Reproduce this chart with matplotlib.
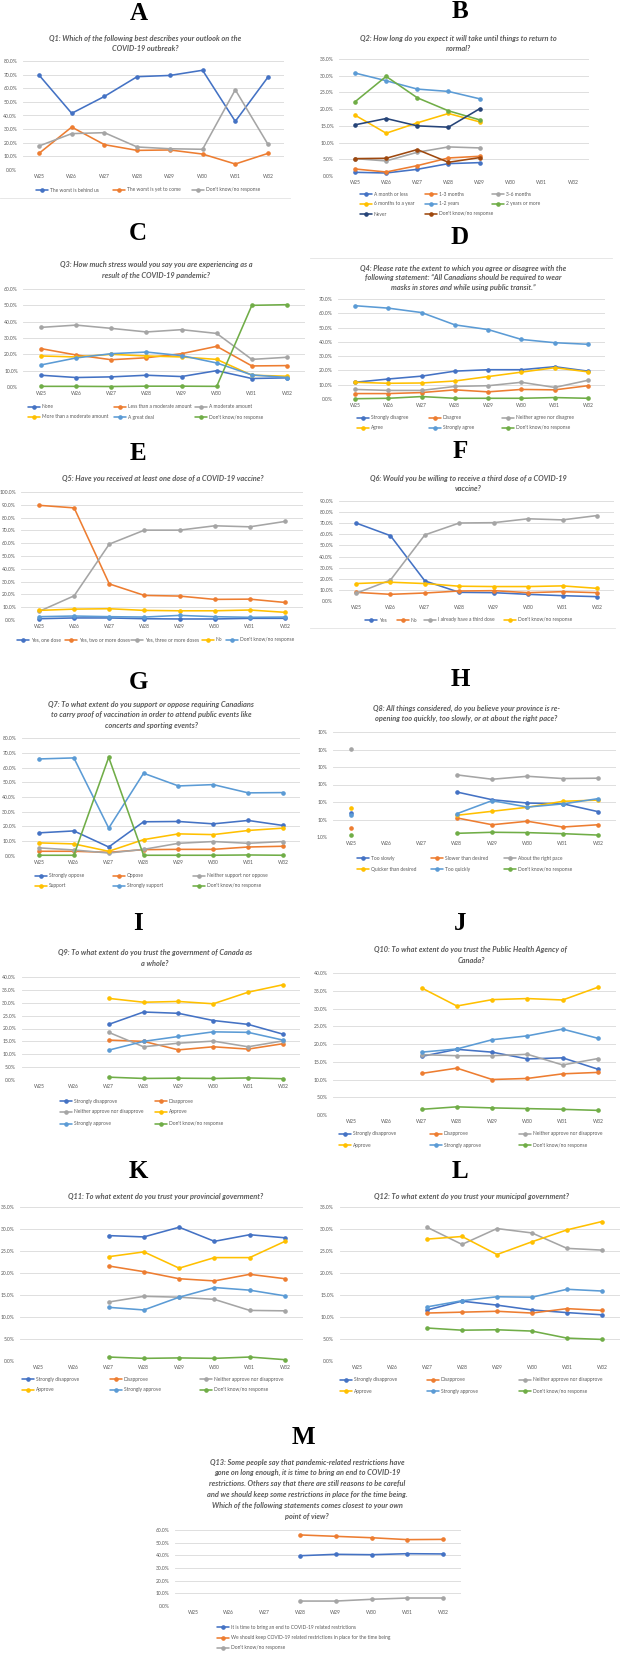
import numpy as np
import matplotlib
matplotlib.use("Agg")
import matplotlib.pyplot as plt
from matplotlib.lines import Line2D

nan = np.nan
WAVES = ["W25", "W26", "W27", "W28", "W29", "W30", "W31", "W32"]

# ---------------- data (percent) ----------------
q1_labels = ["The worst is behind us", "The worst is yet to come", "Don't know/no response"]
q1_behind = [69.7, 41.6, 54.0, 68.5, 69.4, 73.2, 35.7, 68.2]
q1_come = [12.2, 31.5, 18.6, 14.4, 14.7, 11.7, 4.4, 12.2]
q1_dk = [17.6, 26.7, 27.4, 16.9, 15.6, 15.2, 58.9, 18.8]

q2_labels = ["A month or less", "1-3 months", "3-6 months", "6 months to a year",
             "1-2 years", "2 years or more", "Never", "Don't know/no response"]
q2_month = [1.1, 0.9, 2.0, 3.7, 4.0, nan, nan, nan]
q2_1to3m = [2.1, 1.2, 3.1, 5.4, 5.9, nan, nan, nan]
q2_3to6m = [5.2, 4.5, 7.1, 8.7, 8.4, nan, nan, nan]
q2_6to12m = [18.2, 12.8, 15.9, 18.7, 16.2, nan, nan, nan]
q2_1to2y = [30.8, 28.5, 26.0, 25.3, 23.1, nan, nan, nan]
q2_2yplus = [22.2, 29.8, 23.4, 19.5, 16.8, nan, nan, nan]
q2_never = [15.3, 17.2, 15.0, 14.6, 20.1, nan, nan, nan]
q2_dk = [5.2, 5.3, 7.9, 4.1, 5.5, nan, nan, nan]

q3_labels = ["None", "Less than a moderate amount", "A moderate amount",
             "More than a moderate amount", "A great deal", "Don't know/no response"]
q3_none = [7.2, 5.8, 6.2, 7.2, 6.4, 10.0, 5.2, 5.6]
q3_less = [23.5, 19.6, 16.7, 17.9, 20.4, 24.9, 12.9, 13.1]
q3_moderate = [36.5, 37.9, 35.9, 33.7, 35.1, 32.8, 16.9, 18.2]
q3_more = [19.0, 18.4, 20.0, 19.0, 18.4, 16.9, 7.2, 6.6]
q3_great = [13.5, 17.8, 20.4, 21.4, 19.2, 14.7, 7.4, 5.8]
q3_dk = [0.4, 0.4, 0.3, 0.5, 0.5, 0.4, 50.0, 50.4]

q4_labels = ["Strongly disagree", "Disagree", "Neither agree nor disagree",
             "Agree", "Strongly agree", "Don't know/no response"]
q4_sd = [11.7, 14.0, 16.0, 19.5, 20.5, 20.5, 22.6, 19.5]
q4_d = [3.8, 3.8, 4.5, 6.4, 5.0, 6.7, 6.4, 9.3]
q4_n = [6.7, 6.0, 6.0, 8.8, 9.3, 11.7, 8.1, 13.1]
q4_a = [11.7, 11.0, 11.2, 12.6, 15.7, 18.8, 21.9, 19.0]
q4_sa = [65.3, 63.6, 60.5, 51.9, 48.6, 41.7, 39.4, 38.3]
q4_dk = [0.2, 0.5, 1.7, 0.5, 0.5, 0.5, 1.0, 0.5]

q5_labels = ["Yes, one dose", "Yes, two or more doses", "Yes, three or more doses",
             "No", "Don't know/no response"]
q5_one = [1.0, 1.6, 1.6, 1.0, 0.8, 0.8, 1.3, 1.3]
q5_two = [89.6, 87.6, 28.2, 19.2, 18.7, 16.1, 16.3, 13.7]
q5_three = [6.7, 18.9, 59.3, 70.2, 70.2, 73.6, 72.8, 77.0]
q5_no = [7.5, 8.5, 8.8, 7.5, 7.2, 7.2, 7.8, 6.0]
q5_dk = [2.6, 3.1, 2.6, 2.3, 3.6, 2.6, 2.1, 2.3]

q6_labels = ["Yes", "No", "I already have a third dose", "Don't know/no response"]
q6_yes = [70.2, 58.8, 18.1, 7.8, 7.5, 6.0, 4.8, 3.9]
q6_no = [7.8, 6.0, 7.2, 9.0, 9.3, 7.5, 8.4, 7.5]
q6_already = [6.9, 18.8, 59.5, 70.2, 70.5, 74.0, 73.0, 76.9]
q6_dk = [15.7, 16.9, 15.7, 13.3, 13.0, 13.0, 13.6, 11.4]

q7_labels = ["Strongly oppose", "Oppose", "Neither support nor oppose",
             "Support", "Strongly support", "Don't know/no response"]
q7_so = [15.7, 17.0, 6.1, 23.2, 23.4, 21.8, 24.1, 20.7]
q7_o = [3.2, 3.2, 2.5, 4.3, 4.5, 4.5, 6.1, 6.6]
q7_n = [5.5, 4.1, 2.0, 4.5, 8.6, 9.8, 8.6, 9.8]
q7_s = [8.9, 8.2, 3.2, 11.1, 15.0, 14.5, 17.3, 18.9]
q7_ss = [65.8, 66.5, 18.9, 56.1, 47.5, 48.4, 42.8, 43.0]
q7_dk = [0.5, 0.5, 66.9, 0.5, 0.5, 0.5, 0.7, 0.5]

q8_labels = ["Too slowly", "Slower than desired", "About the right pace",
             "Quicker than desired", "Too quickly", "Don't know/no response"]
q8_slowly = [13.7, nan, nan, 25.7, 21.3, 19.4, 19.0, 14.5]
q8_slower = [5.1, nan, nan, 10.9, 7.0, 9.0, 5.7, 7.0]
q8_right = [50.2, nan, nan, 35.5, 33.0, 34.7, 33.4, 33.6]
q8_quicker = [16.8, nan, nan, 12.4, 14.7, 17.0, 20.4, 21.1]
q8_quickly = [12.6, nan, nan, 13.3, 20.8, 17.1, 18.9, 21.9]
q8_dk = [1.3, nan, nan, 2.1, 2.7, 2.5, 1.9, 1.1]
q8_ticklabels = ["1.0%", "10%", "10%", "10%", "10%", "10%", "10%"]

trust_labels = ["Strongly disapprove", "Disapprove", "Neither approve nor disapprove",
                "Approve", "Strongly approve", "Don't know/no response"]
q9_sd = [nan, nan, 21.6, 26.4, 25.9, 23.1, 21.6, 17.8]
q9_d = [nan, nan, 15.5, 15.0, 11.7, 12.9, 12.0, 14.1]
q9_n = [nan, nan, 18.5, 12.9, 14.3, 15.1, 12.9, 15.2]
q9_a = [nan, nan, 31.7, 30.2, 30.5, 29.6, 34.1, 37.0]
q9_sa = [nan, nan, 11.6, 15.0, 16.9, 18.7, 18.5, 15.5]
q9_dk = [nan, nan, 1.1, 0.6, 0.7, 0.6, 0.8, 0.5]

q10_sd = [nan, nan, 16.5, 18.5, 17.7, 15.8, 16.1, 12.9]
q10_d = [nan, nan, 11.7, 13.2, 10.0, 10.3, 11.6, 12.0]
q10_n = [nan, nan, 17.0, 16.7, 16.7, 17.1, 14.1, 15.9]
q10_a = [nan, nan, 35.8, 30.7, 32.5, 32.8, 32.4, 36.0]
q10_sa = [nan, nan, 17.7, 18.6, 21.2, 22.3, 24.2, 21.6]
q10_dk = [nan, nan, 1.6, 2.3, 2.0, 1.8, 1.6, 1.3]

q11_sd = [nan, nan, 28.5, 28.2, 30.4, 27.2, 28.7, 28.0]
q11_d = [nan, nan, 21.6, 20.3, 18.7, 18.2, 19.7, 18.7]
q11_n = [nan, nan, 13.4, 14.7, 14.5, 14.0, 11.5, 11.4]
q11_a = [nan, nan, 23.7, 24.8, 21.1, 23.5, 23.5, 27.2]
q11_sa = [nan, nan, 12.2, 11.6, 14.5, 16.7, 16.1, 14.8]
q11_dk = [nan, nan, 0.9, 0.6, 0.7, 0.6, 0.9, 0.3]

q12_sd = [nan, nan, 11.6, 13.6, 12.7, 11.6, 11.0, 10.5]
q12_d = [nan, nan, 10.9, 11.1, 11.3, 10.9, 11.9, 11.5]
q12_n = [nan, nan, 30.4, 26.5, 30.1, 29.1, 25.6, 25.2]
q12_a = [nan, nan, 27.7, 28.3, 24.2, 27.1, 29.8, 31.7]
q12_sa = [nan, nan, 12.3, 13.7, 14.6, 14.5, 16.3, 15.9]
q12_dk = [nan, nan, 7.5, 7.0, 7.1, 6.8, 5.2, 4.9]

q13_labels = ["It is time to bring an end to COVID-19 related restrictions",
              "We should keep COVID-19 related restrictions in place for the time being",
              "Don't know/no response"]
q13_end = [nan, nan, nan, 39.7, 40.8, 40.5, 41.3, 41.1]
q13_keep = [nan, nan, nan, 56.1, 55.0, 53.9, 52.4, 52.6]
q13_dk = [nan, nan, nan, 3.9, 3.9, 5.3, 6.3, 6.3]

titles = {
    "A": "Q1: Which of the following best describes your outlook on the\nCOVID-19 outbreak?",
    "B": "Q2: How long do you expect it will take until things to return to\nnormal?",
    "C": "Q3: How much stress would you say you are experiencing as a\nresult of the COVID-19 pandemic?",
    "D": "Q4: Please rate the extent to which you agree or disagree with the\nfollowing statement: \u201cAll Canadians should be required to wear\nmasks in stores and while using public transit.\u201d",
    "E": "Q5: Have you received at least one dose of a COVID-19 vaccine?",
    "F": "Q6: Would you be willing to receive a third dose of a COVID-19\nvaccine?",
    "G": "Q7: To what extent do you support or oppose requiring Canadians\nto carry proof of vaccination in order to attend public events like\nconcerts and sporting events?",
    "H": "Q8: All things considered, do you believe your province is re-\nopening too quickly, too slowly, or at about the right pace?",
    "I": "Q9: To what extent do you trust the government of Canada as\na whole?",
    "J": "Q10: To what extent do you trust the Public Health Agency of\nCanada?",
    "K": "Q11: To what extent do you trust your provincial government?",
    "L": "Q12: To what extent do you trust your municipal government?",
    "M": "Q13: Some people say that pandemic-related restrictions have\ngone on long enough, it is time to bring an end to COVID-19\nrestrictions. Others say that there are still reasons to be careful\nand we should keep some restrictions in place for the time being.\nWhich of the following statements comes closest to your own\npoint of view?",
}

# ---------------- styling ----------------
BLUE, ORANGE, GRAY, YELLOW = "#4472C4", "#ED7D31", "#A5A5A5", "#FFC000"
LBLUE, GREEN, DBLUE, BROWN = "#5B9BD5", "#70AD47", "#264478", "#9E480E"
PAL = [BLUE, ORANGE, GRAY, YELLOW, LBLUE, GREEN, DBLUE, BROWN]
TXT = "#595959"
GRID = "#D9D9D9"

plt.rcParams["font.family"] = ["Lato", "DejaVu Sans"]

W, H = 620, 1653
fig = plt.figure(figsize=(W / 100, H / 100), dpi=100)
fig.patch.set_facecolor("white")

TICK_FS = 3.6
LEG_FS = 3.5
TITLE_FS = 5.3


def make_ax(xc0, xc7, ytop, ybot):
    d = (xc7 - xc0) / 7.0
    left, right = xc0 - d / 2, xc7 + d / 2
    ax = fig.add_axes([left / W, 1 - ybot / H, (right - left) / W, (ybot - ytop) / H])
    ax.set_xlim(-0.5, 7.5)
    for s in ax.spines.values():
        s.set_visible(False)
    ax.set_facecolor("none")
    ax.grid(axis="y", color=GRID, lw=0.6)
    ax.set_axisbelow(True)
    ax.tick_params(length=0, labelsize=TICK_FS, labelcolor=TXT)
    ax.tick_params(axis="y", pad=4)
    ax.tick_params(axis="x", pad=3)
    ax.set_xticks(range(8))
    ax.set_xticklabels(WAVES)
    return ax


def legend_items(handles, labels, positions):
    for h, lab, (x, y) in zip(handles, labels, positions):
        fig.legend([h], [lab], loc="center left", bbox_to_anchor=(x / W, 1 - y / H),
                   bbox_transform=fig.transFigure, frameon=False, borderpad=0,
                   borderaxespad=0, handlelength=2.5, handletextpad=0.35,
                   fontsize=LEG_FS, labelcolor=TXT)


def grid_pos(cols, rows, n):
    out = []
    for i in range(n):
        out.append((cols[i % len(cols)], rows[i // len(cols)]))
    return out


def panel(letter, letter_xy, title_xy, title_dy, axbox, ymax, ystep, series, labels,
          legpos, yticklabels=None, fmt="{:.1f}%"):
    fig.text(letter_xy[0] / W, 1 - letter_xy[1] / H, letter, ha="center", va="center",
             fontsize=18, fontweight="bold", family="Liberation Serif", color="black")
    for i, line in enumerate(titles[letter].split("\n")):
        fig.text(title_xy[0] / W, 1 - (title_xy[1] + i * title_dy) / H, line,
                 ha="center", va="center", fontsize=TITLE_FS, fontweight="bold",
                 fontstyle="italic", color=TXT)
    ax = make_ax(*axbox)
    ax.set_ylim(0, ymax)
    ticks = np.arange(0, ymax + ystep / 2, ystep)
    ax.set_yticks(ticks)
    if yticklabels is None:
        ax.set_yticklabels([fmt.format(t) for t in ticks])
    else:
        ax.set_yticklabels(yticklabels)
    handles = []
    x = np.arange(8)
    for k, vals in enumerate(series):
        (h,) = ax.plot(x, vals, color=PAL[k], lw=1.15, marker="o", ms=2.3,
                       solid_capstyle="round", clip_on=False)
        handles.append(h)
    legend_items(handles, labels, legpos)
    return ax


# faint chart-frame edges visible in the source collage
for (x0, x1, y) in [(0, 290, 198), (310, 612, 258), (310, 615, 628)]:
    fig.add_artist(Line2D([x0 / W, x1 / W], [1 - y / H, 1 - y / H],
                          transform=fig.transFigure, color="#E3E3E3", lw=0.6))

panel("A", (139, 13), (145, 38), 10.8, (39, 268, 61, 170), 80, 10,
      [q1_behind, q1_come, q1_dk], q1_labels, grid_pos([36, 113, 192], [190], 3))

panel("B", (460, 12), (458, 38), 10.5, (355, 573, 59, 176), 35, 5,
      [q2_month, q2_1to3m, q2_3to6m, q2_6to12m, q2_1to2y, q2_2yplus, q2_never, q2_dk],
      q2_labels, grid_pos([360, 425, 492], [194, 204, 214], 8))

panel("C", (138, 233), (156, 265), 10.7, (41, 287, 289, 387), 60, 10,
      [q3_none, q3_less, q3_moderate, q3_more, q3_great, q3_dk], q3_labels,
      grid_pos([28, 114, 195], [407, 417], 6))

panel("D", (460, 238), (463, 268), 9.8, (355, 588, 299, 399), 70, 10,
      [q4_sd, q4_d, q4_n, q4_a, q4_sa, q4_dk], q4_labels,
      grid_pos([357, 429, 502], [418, 428], 6))

panel("E", (138, 453), (163, 479), 10.5, (39, 285, 492, 620), 100, 10,
      [q5_one, q5_two, q5_three, q5_no, q5_dk], q5_labels,
      [(17, 640), (65, 640), (131, 640), (202, 640), (226, 640)])

panel("F", (460, 452), (468, 479), 9.7, (356, 597, 501, 601), 90, 10,
      [q6_yes, q6_no, q6_already, q6_dk], q6_labels,
      [(365, 620), (397, 620), (424, 620), (504, 620)])

panel("G", (138, 682), (151, 704), 10.9, (39, 283, 738, 856), 80, 10,
      [q7_so, q7_o, q7_n, q7_s, q7_ss, q7_dk], q7_labels,
      grid_pos([35, 113, 193], [876, 886], 6))

panel("H", (460, 680), (466, 708), 10.6, (351, 598, 732, 837), 60, 10,
      [q8_slowly, q8_slower, q8_right, q8_quicker, q8_quickly, q8_dk], q8_labels,
      grid_pos([357, 431, 504], [858, 869], 6), yticklabels=q8_ticklabels)

panel("I", (138, 923), (155, 953), 10.6, (39, 283, 977, 1080), 40, 5,
      [q9_sd, q9_d, q9_n, q9_a, q9_sa, q9_dk], trust_labels,
      grid_pos([60, 155], [1101, 1112, 1124], 6))

panel("J", (460, 923), (471, 950), 10.7, (351, 598, 973, 1115), 40, 5,
      [q10_sd, q10_d, q10_n, q10_a, q10_sa, q10_dk], trust_labels,
      grid_pos([339, 430, 519], [1134, 1145], 6))

panel("K", (138, 1171), (166, 1197), 10.7, (38, 285, 1207, 1361), 35, 5,
      [q11_sd, q11_d, q11_n, q11_a, q11_sa, q11_dk], trust_labels,
      grid_pos([22, 110, 200], [1379, 1390], 6))

panel("L", (460, 1171), (471, 1197), 10.7, (357, 602, 1207, 1361), 35, 5,
      [q12_sd, q12_d, q12_n, q12_a, q12_sa, q12_dk], trust_labels,
      grid_pos([340, 427, 519], [1380, 1391], 6))

panel("M", (303, 1438), (307, 1462), 10.8, (193, 443, 1530, 1606), 60, 10,
      [q13_end, q13_keep, q13_dk], q13_labels,
      grid_pos([217], [1627, 1638, 1648], 3))

fig.savefig("out.png", dpi=100, facecolor="white")
